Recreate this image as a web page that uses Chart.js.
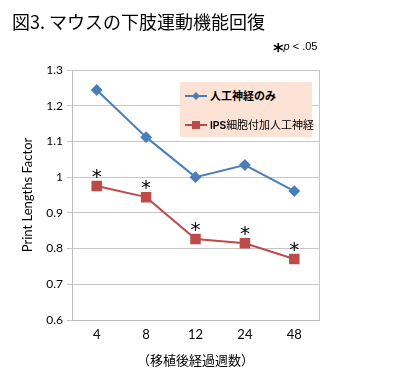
<!DOCTYPE html>
<html lang="ja">
<head>
  <meta charset="UTF-8">
  <title>図3. マウスの下肢運動機能回復</title>
  <script src="https://cdn.jsdelivr.net/npm/chart.js"></script>
  <style>
    body { margin: 0; background: #fff; }
    #wrap { position: relative; width: 400px; height: 374px; }
    #titulo { position: absolute; left: 12px; top: 8px; font: 18px "Noto Sans CJK JP"; color: #000; }
    #nota { position: absolute; left: 273px; top: 38px; font: 11px "Liberation Sans"; color: #000; }
    #nota b { font: bold 20px "DejaVu Sans"; vertical-align: -7px; }
    #legenda { position: absolute; left: 180px; top: 82px; width: 132px; height: 55px; background: #fce3d5; font: 11px "Noto Sans CJK JP"; }
    .item { position: absolute; left: 5px; height: 14px; line-height: 14px; }
    .item span.l { position: absolute; left: 0; top: 6px; width: 22px; height: 2px; }
    .item span.t { position: absolute; left: 25px; top: -1px; white-space: nowrap; }
  </style>
</head>
<body>
  <div id="wrap">
    <canvas id="grafico" width="400" height="374"></canvas>
    <div id="titulo">図3. マウスの下肢運動機能回復</div>
    <div id="nota"><b>*</b><i>p</i> &lt; .05</div>
    <div id="legenda">
      <div class="item" style="top:7px"><span class="l" style="background:#4a7ebb"></span><svg style="position:absolute;left:7px;top:3px" width="8" height="8"><polygon points="4,0 8,4 4,8 0,4" fill="#4a7ebb"/></svg><span class="t" style="font-weight:bold">人工神経のみ</span></div>
      <div class="item" style="top:36px"><span class="l" style="background:#be4b48"></span><svg style="position:absolute;left:7px;top:3px" width="8" height="8"><rect width="8" height="8" fill="#be4b48"/></svg><span class="t"><span style="font:bold 10px 'Liberation Sans'">IPS</span>細胞付加人工神経</span></div>
    </div>
  </div>

  <script>
    const semanas = ['4', '8', '12', '24', '48'];
    const soNervo = [1.244, 1.112, 1.0, 1.034, 0.961];
    const comIPS = [0.975, 0.944, 0.827, 0.815, 0.771];
    const significativo = [true, true, true, true, true];
    const yMin = 0.6, yMax = 1.3, yPasso = 0.1;

    // asteriscos acima dos pontos vermelhos
    const asteriscos = {
      id: 'asteriscos',
      afterDatasetsDraw(chart) {
        const ctx = chart.ctx;
        const meta = chart.getDatasetMeta(1);
        ctx.save();
        ctx.fillStyle = '#000';
        ctx.font = '20px "DejaVu Sans"';
        ctx.textAlign = 'center';
        ctx.textBaseline = 'middle';
        meta.data.forEach((p, i) => {
          if (significativo[i]) ctx.fillText('*', p.x, p.y - 8);
        });
        ctx.restore();
      }
    };

    const ctx = document.getElementById('grafico').getContext('2d');
    new Chart(ctx, {
      type: 'line',
      data: {
        labels: semanas,
        datasets: [
          {
            label: '人工神経のみ',
            data: soNervo,
            borderColor: '#4a7ebb',
            backgroundColor: '#4a7ebb',
            borderWidth: 2,
            pointStyle: 'rectRot',
            pointRadius: 4.5,
            tension: 0
          },
          {
            label: 'iPS細胞付加人工神経',
            data: comIPS,
            borderColor: '#be4b48',
            backgroundColor: '#be4b48',
            borderWidth: 2,
            pointStyle: 'rect',
            pointRadius: 6,
            tension: 0
          }
        ]
      },
      options: {
        responsive: false,
        animation: false,
        layout: { padding: { left: 0, right: 81, top: 70, bottom: 0 } },
        plugins: { legend: { display: false }, tooltip: { enabled: false } },
        scales: {
          x: {
            offset: true,
            afterFit(s) { s.height = 54; },
            grid: { display: false, drawTicks: false },
            border: { color: '#bfbfbf' },
            ticks: { color: '#000', padding: 7, font: { family: 'Lato', size: 13 } },
            title: { display: true, text: '（移植後経過週数）', color: '#000', padding: { top: 4, bottom: 6 }, font: { family: 'Noto Sans CJK JP', size: 13 } }
          },
          y: {
            min: yMin,
            max: yMax,
            afterFit(s) { s.width = 72; },
            grid: { color: '#c6c6c6', tickLength: 5 },
            border: { color: '#bfbfbf' },
            ticks: {
              stepSize: yPasso,
              color: '#000',
              padding: 4,
              font: { family: 'Lato', size: 12 },
              callback: v => String(Math.round(v * 10) / 10)
            },
            title: { display: true, text: 'Print Lengths Factor', color: '#000', padding: { bottom: 0, top: 20 }, font: { family: 'Lato', size: 13 } }
          }
        }
      },
      plugins: [asteriscos, {
        id: 'bordaDireita',
        beforeDatasetsDraw(chart) {
          const a = chart.chartArea, c = chart.ctx;
          c.save();
          c.strokeStyle = '#c6c6c6';
          c.lineWidth = 1;
          c.beginPath();
          c.moveTo(a.right + 0.5, a.top);
          c.lineTo(a.right + 0.5, a.bottom);
          c.stroke();
          c.restore();
        }
      }]
    });
  </script>
</body>
</html>
